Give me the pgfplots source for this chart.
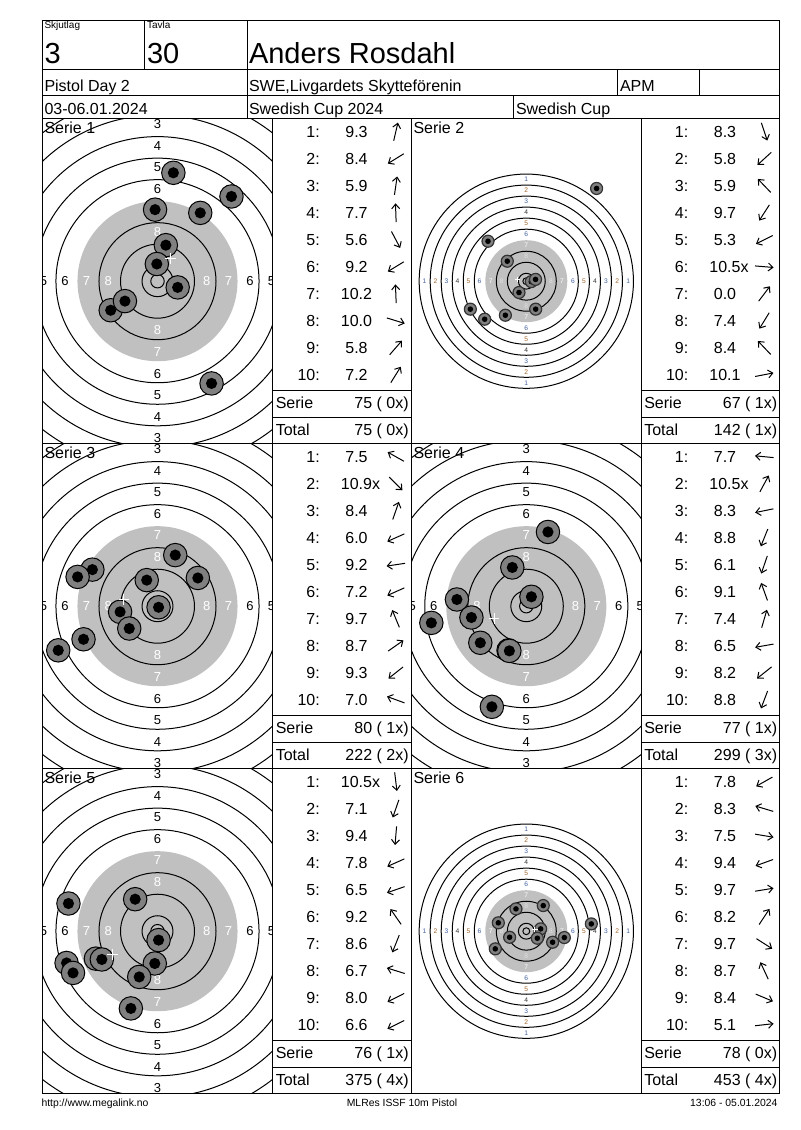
\documentclass[border=0pt]{standalone}
\usepackage{fontspec}
\setmainfont{Liberation Sans}
\usepackage{pgfplots}
\usepackage{pgfplotstable}
\pgfplotsset{compat=1.18}
\usetikzlibrary{arrows.meta,calc}

\definecolor{ringgray}{HTML}{C0C0C0}
\definecolor{shotgray}{HTML}{808080}
\definecolor{labblue}{HTML}{3F5F9F}
\definecolor{labbrown}{HTML}{A0642A}

\newcommand\fA{\fontsize{12}{14}\selectfont}
\newcommand\fBig{\fontsize{21.75}{24}\selectfont}
\newcommand\fS{\fontsize{7.5}{9}\selectfont}
\newcommand\fF{\fontsize{7.8}{9}\selectfont}

\pgfdeclareplotmark{shotZ}{%
  \pgfsetlinewidth{0.75pt}\pgfsetstrokecolor{black}\pgfsetfillcolor{shotgray}%
  \pgfpathcircle{\pgfpointorigin}{8.8pt}\pgfusepath{fill,stroke}%
  \pgfsetfillcolor{black}\pgfpathcircle{\pgfpointorigin}{4.2pt}\pgfusepath{fill}}
\pgfdeclareplotmark{shotF}{%
  \pgfsetlinewidth{0.9pt}\pgfsetstrokecolor{black!80}\pgfsetfillcolor{shotgray}%
  \pgfpathcircle{\pgfpointorigin}{4.5pt}\pgfusepath{fill,stroke}%
  \pgfsetfillcolor{black}\pgfpathcircle{\pgfpointorigin}{2.1pt}\pgfusepath{fill}}

% shot positions in mm from the centre (y up), score, inner-ten flag
\pgfplotstableread{
x y s X
3.1 13.4 9.3 0
-17.4 -10.8 8.4 0
5.9 40.3 5.9 0
-0.9 26.6 7.7 0
20.1 -38.0 5.6 0
-12.1 -7.4 9.2 0
-0.25 6.4 10.2 0
7.5 -2.3 10.0 0
27.5 31.5 5.8 0
15.9 25.4 7.2 0
}\SA
\pgfplotstableread{
x y s X
6.8 -20.3 8.3 0
-30.2 -27.6 5.8 0
-27.8 29.0 5.9 0
-5.3 -8.2 9.7 0
-40.6 -20.3 5.3 0
3.6 -0.3 10.5 1
51.0 67.3 0.0 0
-15.2 -24.7 7.4 0
-13.8 14.5 8.4 0
6.7 1.3 10.1 0
}\SB
\pgfplotstableread{
x y s X
-24.2 13.6 7.5 0
0.4 -0.4 10.9 1
6.6 19.0 8.4 0
-36.9 -16.4 6.0 0
-13.9 -2.1 9.2 0
-27.5 -12.3 7.2 0
-4.0 9.7 9.7 0
15.0 10.5 8.7 0
-10.5 -8.3 9.3 0
-29.7 10.9 7.0 0
}\SC
\pgfplotstableread{
x y s X
-25.8 2.5 7.7 0
1.9 3.5 10.5 1
-20.4 -4.2 8.3 0
-6.6 -16.4 8.8 0
-12.8 -37.4 6.1 0
-5.2 14.4 9.1 0
8.05 27.6 7.4 0
-35.3 -6.2 6.5 0
-17.1 -13.6 8.2 0
-6.3 -16.6 8.8 0
}\SD
\pgfplotstableread{
x y s X
0.4 -3.3 10.5 1
-9.9 -28.7 7.1 0
-1.0 -12.0 9.4 0
-22.9 -10.2 7.8 0
-33.8 -11.8 6.5 0
-8.3 11.9 9.2 0
-6.8 -17.0 8.6 0
-33.1 10.3 6.7 0
-20.7 -10.5 8.0 0
-31.4 -15.5 6.6 0
}\SE
\pgfplotstableread{
x y s X
-22.5 -12.8 7.8 0
-20.3 6.1 8.3 0
27.6 -4.6 7.5 0
-12.1 -4.4 9.4 0
10.4 1.7 9.7 0
12.3 18.6 8.2 0
8.0 -5.1 9.7 0
-7.5 16.2 8.7 0
19.1 -8.0 8.4 0
47.2 5.3 5.1 0
}\SF

\pgfplotsset{
  target/.style={hide axis, scale only axis, width=172.5pt, height=243.75pt,
    anchor=north west, clip=true, disabledatascaling},
  zoomview/.style={target, xmin=-42.75, xmax=42.75, ymin=-60.41, ymax=60.41},
  fullview/.style={target, xmin=-83.45, xmax=83.45, ymin=-117.93, ymax=117.93},
}

\newcommand\rings{%
  \fill[ringgray] (axis cs:0,0) circle[radius=29.75];
  \draw[line width=0.75pt] (axis cs:0,0) circle[radius=77.75];
  \draw[line width=0.75pt] (axis cs:0,0) circle[radius=69.75];
  \draw[line width=0.75pt] (axis cs:0,0) circle[radius=61.75];
  \draw[line width=0.75pt] (axis cs:0,0) circle[radius=53.75];
  \draw[line width=0.75pt] (axis cs:0,0) circle[radius=45.75];
  \draw[line width=0.75pt] (axis cs:0,0) circle[radius=37.75];
  \draw[line width=0.75pt] (axis cs:0,0) circle[radius=21.75];
  \draw[line width=0.75pt] (axis cs:0,0) circle[radius=13.75];
  \draw[line width=0.75pt] (axis cs:0,0) circle[radius=5.75];
  \draw[line width=0.75pt] (axis cs:0,0) circle[radius=2.5];
}
\newcommand\labZ[3]{%
  \node[inner sep=0,text=#3,font=\fontsize{9.75}{10}\selectfont] at (axis cs:0,#2) {#1};
  \node[inner sep=0,text=#3,font=\fontsize{9.75}{10}\selectfont] at (axis cs:0,-#2) {#1};
  \node[inner sep=0,text=#3,font=\fontsize{9.75}{10}\selectfont] at (axis cs:#2,0) {#1};
  \node[inner sep=0,text=#3,font=\fontsize{9.75}{10}\selectfont] at (axis cs:-#2,0) {#1};
}
\newcommand\labF[3]{%
  \node[inner sep=0,text=#3,font=\fontsize{5}{6}\selectfont] at (axis cs:0,#2) {#1};
  \node[inner sep=0,text=#3,font=\fontsize{5}{6}\selectfont] at (axis cs:0,-#2) {#1};
  \node[inner sep=0,text=#3,font=\fontsize{5}{6}\selectfont] at (axis cs:#2,0) {#1};
  \node[inner sep=0,text=#3,font=\fontsize{5}{6}\selectfont] at (axis cs:-#2,0) {#1};
}
% zoomed view: only rings 3..8 fall (partly) inside the panel
\newcommand\labelsZ{%
  \labZ{3}{58.4}{black}
  \labZ{4}{50.4}{black}\labZ{5}{42.4}{black}\labZ{6}{34.4}{black}
  \labZ{7}{26.4}{white}\labZ{8}{18.3}{white}}
\newcommand\labelsF{%
  \labF{1}{73.9}{labblue}\labF{2}{65.9}{labbrown}\labF{3}{57.9}{labblue}
  \labF{4}{49.9}{black!80}\labF{5}{41.9}{labbrown}\labF{6}{33.9}{labblue}
  \labF{7}{25.9}{white}\labF{8}{17.9}{white!88!black}}
\newcommand\clipbox{\clip (rel axis cs:0,0) rectangle (rel axis cs:1,1);}

% score list: table, left edge (px), top edge (px)
\newcommand\slist[3]{%
  \foreach \r in {1,...,10}{
    \pgfmathtruncatemacro\i{\r-1}
    \pgfplotstablegetelem{\i}{s}\of#1 \let\sc\pgfplotsretval
    \pgfplotstablegetelem{\i}{X}\of#1 \let\xf\pgfplotsretval
    \pgfplotstablegetelem{\i}{x}\of#1 \let\xx\pgfplotsretval
    \pgfplotstablegetelem{\i}{y}\of#1 \let\yy\pgfplotsretval
    \pgfmathsetmacro\ang{atan2(\yy,\xx)}
    \pgfmathsetmacro\by{#3+19+(\r-1)*27}
    \node[anchor=base east,inner sep=0,font=\fA] at (#2+47.5,\by) {\r:};
    \node[anchor=base,inner sep=0,font=\fA] at (#2+83.7,\by) {\sc\ifnum\xf=1 \rlap{x}\fi};
    \draw[line width=0.75pt,-{Straight Barb[length=3.5pt,width=6pt]}]
      ($(#2+123,\by-6)+(\ang+180:7pt)$) -- ($(#2+123,\by-6)+(\ang:7pt)$);
  }
}
\newcommand\ssum[4]{%
  \node[anchor=base west,inner sep=0,font=\fA] at (#1+2.5,#2+290) {Serie};
  \node[anchor=base east,inner sep=0,font=\fA] at (#1+136.3,#2+290) {#3};
  \node[anchor=base west,inner sep=0,font=\fA] at (#1+2.5,#2+316.7) {Total};
  \node[anchor=base east,inner sep=0,font=\fA] at (#1+136.3,#2+316.7) {#4};
}

\begin{document}
\begin{tikzpicture}
\path[use as bounding box] (0pt,0pt) rectangle (600pt,-847.5pt);

% ---- Serie 1 (zoomed)
\begin{axis}[zoomview, at={(42.5*0.75pt,-118.7*0.75pt)}]
\begin{scope}\clipbox \rings \labelsZ \end{scope}
\addplot[only marks, mark=shotZ] table[x=x,y=y]{\SA};
\addplot[only marks, mark=+, mark size=4pt, white, line width=0.75pt] coordinates {(4.94,8.51)};
\end{axis}
% ---- Serie 2 (full)
\begin{axis}[fullview, at={(411.3*0.75pt,-118.7*0.75pt)}]
\begin{scope}\clipbox \rings \labelsF \end{scope}
\addplot[only marks, mark=shotF] table[x=x,y=y]{\SB};
\addplot[only marks, mark=+, mark size=2pt, white, line width=0.75pt] coordinates {(-6.48,1.07)};
\end{axis}
% ---- Serie 3 (zoomed)
\begin{axis}[zoomview, at={(42.5*0.75pt,-443.7*0.75pt)}]
\begin{scope}\clipbox \rings \labelsZ \end{scope}
\addplot[only marks, mark=shotZ] table[x=x,y=y]{\SC};
\addplot[only marks, mark=+, mark size=4pt, white, line width=0.75pt] coordinates {(-12.47,2.42)};
\end{axis}
% ---- Serie 4 (zoomed)
\begin{axis}[zoomview, at={(411.3*0.75pt,-443.7*0.75pt)}]
\begin{scope}\clipbox \rings \labelsZ \end{scope}
\addplot[only marks, mark=shotZ] table[x=x,y=y]{\SD};
\addplot[only marks, mark=+, mark size=4pt, white, line width=0.75pt] coordinates {(-11.96,-4.64)};
\end{axis}
% ---- Serie 5 (zoomed)
\begin{axis}[zoomview, at={(42.5*0.75pt,-768.7*0.75pt)}]
\begin{scope}\clipbox \rings \labelsZ \end{scope}
\addplot[only marks, mark=shotZ] table[x=x,y=y]{\SE};
\addplot[only marks, mark=+, mark size=4pt, white, line width=0.75pt] coordinates {(-16.75,-8.68)};
\end{axis}
% ---- Serie 6 (full)
\begin{axis}[fullview, at={(411.3*0.75pt,-768.7*0.75pt)}]
\begin{scope}\clipbox \rings \labelsF \end{scope}
\addplot[only marks, mark=shotF] table[x=x,y=y]{\SF};
\addplot[only marks, mark=+, mark size=2pt, white, line width=0.75pt] coordinates {(6.22,1.30)};
\end{axis}

\begin{scope}[x=0.75pt,y=-0.75pt,line width=0.75pt]
% frame and grid
\draw (42.5,21) rectangle (779.3,1093);
\foreach \yy in {70,95.7,118.7,443.7,768.7} \draw (42.5,\yy) -- (779.3,\yy);
\draw (144.7,21) -- (144.7,70);
\draw (247,21) -- (247,118.7);
\draw (617.6,70) -- (617.6,95.7);
\draw (699,70) -- (699,95.7);
\draw (513.8,95.7) -- (513.8,118.7);
\foreach \xx in {272.8,411.3,641.3} \draw (\xx,118.7) -- (\xx,1093);
\foreach \T in {118.7,443.7,768.7}{
  \foreach \L/\R in {272.8/411.3,641.3/779.3}{
    \draw (\L,\T+271.7) -- (\R,\T+271.7);
    \draw (\L,\T+298.3) -- (\R,\T+298.3);
  }
}
% header
\node[anchor=base west,inner sep=0,font=\fS] at (44,29) {Skjutlag};
\node[anchor=base west,inner sep=0,font=\fS] at (146.5,29) {Tavla};
\node[anchor=base west,inner sep=0,font=\fBig] at (44,64) {3};
\node[anchor=base west,inner sep=0,font=\fBig] at (146.5,64) {30};
\node[anchor=base west,inner sep=0,font=\fBig] at (248.5,64) {Anders Rosdahl};
\node[anchor=base west,inner sep=0,font=\fA] at (44,91.5) {Pistol Day 2};
\node[anchor=base west,inner sep=0,font=\fA] at (248.5,91.5) {SWE,Livgardets Skytteförenin};
\node[anchor=base west,inner sep=0,font=\fA] at (619.5,91.5) {APM};
\node[anchor=base west,inner sep=0,font=\fA] at (44,114.7) {03-06.01.2024};
\node[anchor=base west,inner sep=0,font=\fA] at (248.5,114.7) {Swedish Cup 2024};
\node[anchor=base west,inner sep=0,font=\fA] at (515.5,114.7) {Swedish Cup};
% target titles
\node[anchor=base west,inner sep=0,font=\fA] at (44,118.7+14.7) {Serie 1};
\node[anchor=base west,inner sep=0,font=\fA] at (413,118.7+14.7) {Serie 2};
\node[anchor=base west,inner sep=0,font=\fA] at (44,443.7+14.7) {Serie 3};
\node[anchor=base west,inner sep=0,font=\fA] at (413,443.7+14.7) {Serie 4};
\node[anchor=base west,inner sep=0,font=\fA] at (44,768.7+14.7) {Serie 5};
\node[anchor=base west,inner sep=0,font=\fA] at (413,768.7+14.7) {Serie 6};
% score lists
\slist{\SA}{272.8}{118.7}
\slist{\SB}{641.3}{118.7}
\slist{\SC}{272.8}{443.7}
\slist{\SD}{641.3}{443.7}
\slist{\SE}{272.8}{768.7}
\slist{\SF}{641.3}{768.7}
\ssum{272.8}{118.7}{75 ( 0x)}{75 ( 0x)}
\ssum{641.3}{118.7}{67 ( 1x)}{142 ( 1x)}
\ssum{272.8}{443.7}{80 ( 1x)}{222 ( 2x)}
\ssum{641.3}{443.7}{77 ( 1x)}{299 ( 3x)}
\ssum{272.8}{768.7}{76 ( 1x)}{375 ( 4x)}
\ssum{641.3}{768.7}{78 ( 0x)}{453 ( 4x)}
% footer
\node[anchor=base west,inner sep=0,font=\fF] at (41,1106) {http://www.megalink.no};
\node[anchor=base,inner sep=0,font=\fF] at (402,1106) {MLRes ISSF 10m Pistol};
\node[anchor=base east,inner sep=0,font=\fF] at (778,1106) {13:06 - 05.01.2024};
\end{scope}
\end{tikzpicture}
\end{document}
